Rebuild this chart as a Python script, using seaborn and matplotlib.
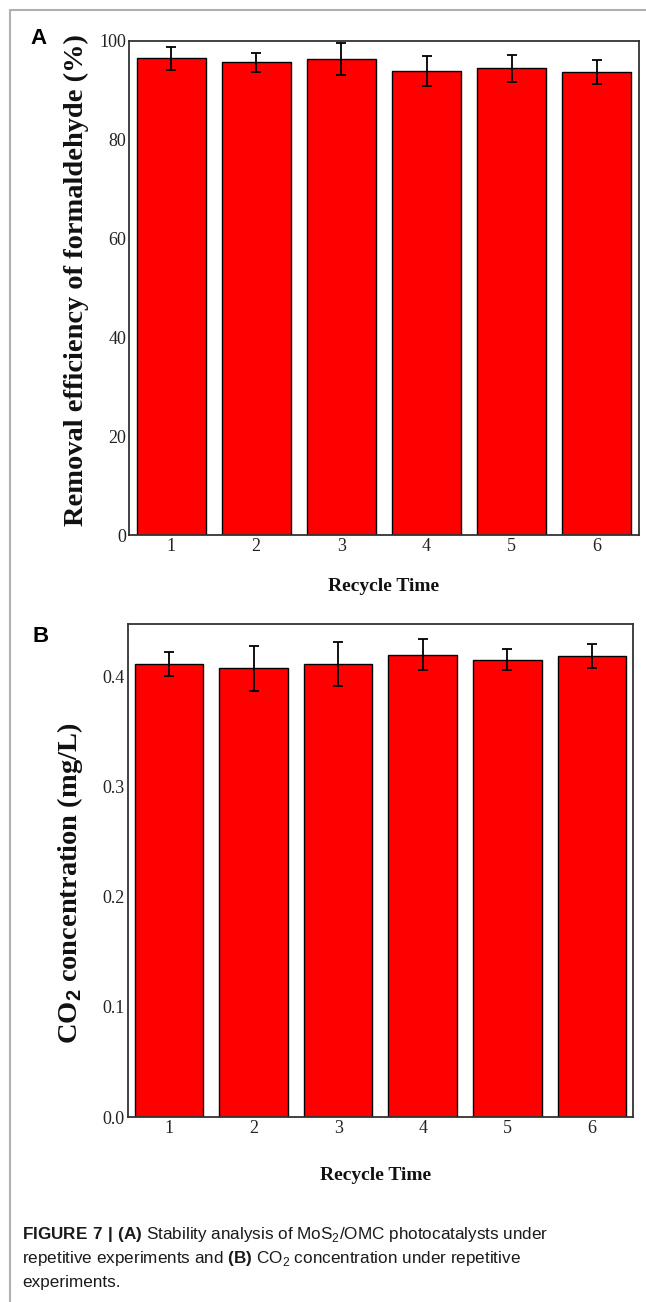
import matplotlib
matplotlib.use("Agg")
import matplotlib.pyplot as plt
from matplotlib.lines import Line2D
import numpy as np
import pandas as pd
import seaborn as sns

# data
recycle = ["1", "2", "3", "4", "5", "6"]
removal = [96.4, 95.6, 96.3, 93.9, 94.4, 93.6]
removal_err = [2.3, 1.9, 3.3, 3.1, 2.7, 2.4]
co2 = [0.411, 0.407, 0.411, 0.4195, 0.415, 0.418]
co2_err = [0.0105, 0.0205, 0.020, 0.0142, 0.0099, 0.0108]
yticks_a = [0, 20, 40, 60, 80, 100]
yticks_b = [0.0, 0.1, 0.2, 0.3, 0.4]

sns.set_style("white")
plt.rcParams['mathtext.fontset'] = 'custom'
plt.rcParams['mathtext.rm'] = 'Liberation Sans'
plt.rcParams['mathtext.bf'] = 'Liberation Sans:bold'

W, H = 646, 1302
fig = plt.figure(figsize=(W / 100, H / 100), dpi=100)

serif = ['Liberation Serif', 'DejaVu Serif']
sans = ['Liberation Sans', 'DejaVu Sans']


def panel(rect, vals, errs, ylim, yticks, ylabel, fmt, ylab_xy, xlab_xy):
    ax = fig.add_axes(rect)
    df = pd.DataFrame({"Recycle": recycle, "val": vals})
    sns.barplot(data=df, x="Recycle", y="val", color="#ff0000", saturation=1,
                edgecolor="black", linewidth=1.0, width=0.81, errorbar=None, ax=ax)
    ax.errorbar(np.arange(len(vals)), vals, yerr=errs, fmt='none', ecolor='black',
                elinewidth=1.3, capsize=3.5, capthick=1.3)
    ax.set_xlim(-0.49, 5.49)
    ax.set_ylim(*ylim)
    ax.set_yticks(yticks)
    ax.set_yticklabels([fmt.format(t) for t in yticks], family=serif, fontsize=13, color='#222222')
    ax.set_xticklabels(recycle, family=serif, fontsize=13, color='#222222')
    ax.tick_params(length=0, pad=2)
    for s in ax.spines.values():
        s.set_color('#333333')
        s.set_linewidth(1.3)
    ax.set_xlabel("Recycle Time", family=serif, fontsize=14, fontweight='bold', color='#111111')
    ax.set_ylabel(ylabel, family=serif, fontsize=20.5, fontweight='bold', color='#111111')
    ax.xaxis.set_label_coords(*xlab_xy)
    ax.yaxis.set_label_coords(*ylab_xy)
    ax.xaxis.label.set_va('center')
    ax.yaxis.label.set_va('center')
    return ax


axA = panel([129.3 / W, 1 - 535 / H, 509.4 / W, 494.3 / H], removal, removal_err,
            (0, 100), yticks_a, "Removal efficiency of formaldehyde (%)", "{:.0f}",
            (-0.103, 0.516), (0.5, -0.105))
axB = panel([127.6 / W, 1 - 1117 / H, 505.7 / W, 492.7 / H], co2, co2_err,
            (0, 0.447), yticks_b, r"CO$_\mathbf{2}$ concentration (mg/L)", "{:.1f}",
            (-0.114, 0.475), (0.491, -0.118))

fig.text(30 / W, 1 - 38 / H, "A", family=sans, fontsize=16, fontweight='bold', va='center', color='black')
fig.text(32 / W, 1 - 637 / H, "B", family=sans, fontsize=16, fontweight='bold', va='center', color='black')

# caption
cap = [r"$\mathbf{FIGURE\ 7\ |\ (A)}$ Stability analysis of MoS$_2$/OMC photocatalysts under",
       r"repetitive experiments and $\mathbf{(B)}$ CO$_2$ concentration under repetitive",
       "experiments."]
for i, line in enumerate(cap):
    fig.text(22 / W, 1 - (1235 + 23.5 * i) / H, line, family=sans, fontsize=12.3, va='center',
             color='#1a1a1a')

# gray page frame
fig.add_artist(Line2D([10 / W, 10 / W], [1 - 10 / H, 0], color='#b0b0b0', lw=1.5))
fig.add_artist(Line2D([10 / W, 1], [1 - 10 / H, 1 - 10 / H], color='#b0b0b0', lw=1.5))

fig.savefig("out.png", dpi=100)
